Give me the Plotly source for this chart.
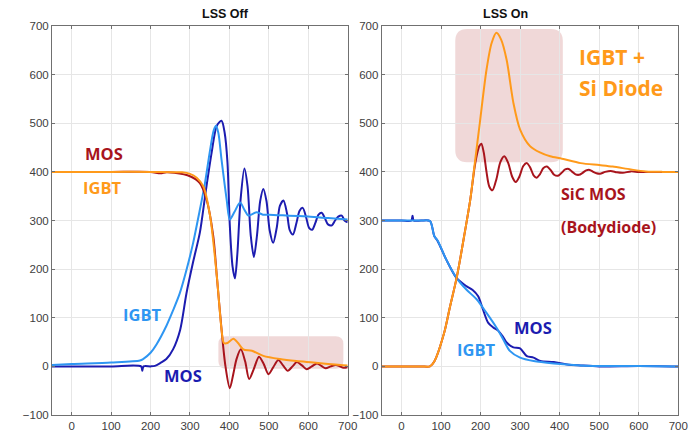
import plotly.graph_objects as go

# ---------------- data (time in ns, value) ----------------
# LSS Off panel
off_mos_v_t = [-50, 0, 100, 200, 225, 240, 260, 300, 325, 342, 359, 368, 380, 390, 401, 410, 418, 429, 440, 450, 462, 475, 487, 499, 511, 524, 536, 548, 560, 571, 584, 596, 609, 622, 633, 644, 657, 670, 680, 689, 700]
off_mos_v = [400, 400, 400, 400, 397, 399, 398, 391, 377, 343, 268, 186, 76, 0, -45, -15, 15, 35, 10, -26, -5, 20, 5, -16, -2, 13, 2, -9, 0, 9, 2, -6, 0, 6, 1, -4, 0, 3, 0, -3, -2]

off_igbt_v_t = [-50, 0, 100, 200, 280, 300, 317, 334, 351, 368, 380, 386, 395, 410, 422, 435, 457, 486, 528, 570, 613, 650, 689, 700]
off_igbt_v = [400, 400, 400, 400, 399, 396, 388, 370, 309, 186, 76, 48, 48, 57, 48, 35, 32, 21.5, 15, 11, 8, 5, 2.5, 2]

off_igbt_i_t = [-50, 0, 100, 173, 181, 200, 215, 240, 257, 274, 290, 308, 325, 338, 350, 360, 366, 372, 380, 393, 401, 413, 427, 438, 448, 458, 469, 485, 500, 550, 600, 650, 700]
off_igbt_i = [3, 5, 8, 12, 15, 28, 45, 83, 115, 150, 195, 254, 322, 377, 440, 485, 495, 480, 425, 343, 302, 318, 337, 322, 310, 313, 317, 312, 312, 310, 308, 305, 302]

off_mos_i_t = [-50, 0, 100, 176, 179, 182, 200, 211, 225, 240, 257, 275, 291, 308, 325, 340, 355, 368, 380, 388, 395, 401, 408, 414, 420, 428, 438, 446, 454, 462, 470, 478, 486, 494, 502, 511, 520, 528, 537, 546, 553, 561, 570, 578, 586, 595, 602, 610, 618, 626, 634, 642, 650, 660, 668, 676, 685, 692, 700]
off_mos_i = [0, 0, 0, 0, -9, 0, 0, 1, 7, 15, 35, 75, 150, 215, 275, 360, 440, 495, 505, 480, 420, 290, 205, 181, 230, 340, 407, 370, 270, 225, 270, 340, 365, 340, 280, 254, 285, 330, 341, 315, 280, 271, 295, 320, 326, 305, 285, 281, 295, 312, 316, 305, 292, 290, 300, 308, 310, 300, 296]

# LSS On panel
on_igbt_v_t = [-50, 0, 50, 72, 83, 108, 122, 140, 160, 174, 185, 198, 215, 228, 240, 252, 266, 283, 300, 325, 350, 376, 406, 453, 500, 534, 580, 618, 660, 700]
on_igbt_v = [0, 0, 0, 0, 10, 69, 120, 184, 275, 343, 415, 500, 610, 665, 686, 672, 630, 542, 487, 453, 440, 432, 427, 418, 414, 411, 405, 401, 400, 400]

on_mos_v_t = [-50, 0, 50, 72, 83, 108, 122, 140, 160, 174, 185, 192, 197, 202, 208, 215, 222, 230, 240, 250, 260, 270, 280, 289, 298, 308, 317, 326, 334, 342, 350, 359, 368, 377, 386, 396, 405, 414, 423, 432, 440, 449, 458, 467, 476, 485, 493, 502, 515, 529, 545, 560, 580, 600, 640, 700]
on_mos_v = [0, 0, 0, 0, 10, 69, 120, 184, 275, 343, 410, 440, 453, 458, 440, 400, 370, 362, 385, 420, 432, 418, 390, 379, 390, 412, 418, 408, 393, 388, 395, 408, 411, 404, 394, 392, 398, 405, 406, 400, 395, 394, 398, 403, 404, 400, 397, 396, 400, 402, 399, 398, 401, 400, 400, 400]

on_igbt_i_t = [-50, 0, 50, 72, 83, 92, 113, 139, 164, 190, 215, 240, 257, 274, 300, 334, 385, 453, 500, 600, 700]
on_igbt_i = [300, 300, 300, 299, 268, 258, 220, 182, 158, 138, 110, 80, 56, 32, 18, 11, 6, 2, 1, 1, 0]

on_mos_i_t = [-50, 0, 25, 28, 31, 50, 72, 83, 92, 113, 139, 164, 180, 194, 206, 219, 232, 245, 256, 266, 283, 300, 317, 334, 351, 385, 419, 453, 500, 600, 700]
on_mos_i = [300, 300, 300, 310, 300, 300, 299, 268, 257, 220, 182, 165, 157, 144, 117, 90, 80, 73, 62, 49, 39, 37, 21, 18, 11, 9, 4, 2, 0, 1, 0]

x_ticks = [0, 100, 200, 300, 400, 500, 600, 700]
y_ticks = [-100, 0, 100, 200, 300, 400, 500, 600, 700]

# ---------------- styles ----------------
DARK_RED = "#a8141c"
ORANGE = "#ff9a1a"
LIGHT_BLUE = "#2e96f2"
DARK_BLUE = "#1c1cb0"

fig = go.Figure()

def add(t, v, color, xa, ya):
    fig.add_trace(go.Scatter(x=t, y=v, mode="lines", xaxis=xa, yaxis=ya,
                             line=dict(color=color, width=2, shape="spline", smoothing=0.8),
                             showlegend=False, hoverinfo="skip"))

add(off_mos_i_t, off_mos_i, DARK_BLUE, "x", "y")
add(off_igbt_i_t, off_igbt_i, LIGHT_BLUE, "x", "y")
add(off_mos_v_t, off_mos_v, DARK_RED, "x", "y")
add(off_igbt_v_t, off_igbt_v, ORANGE, "x", "y")

add(on_mos_i_t, on_mos_i, DARK_BLUE, "x2", "y2")
add(on_igbt_i_t, on_igbt_i, LIGHT_BLUE, "x2", "y2")
add(on_mos_v_t, on_mos_v, DARK_RED, "x2", "y2")
add(on_igbt_v_t, on_igbt_v, ORANGE, "x2", "y2")

def rounded(x0, x1, y0, y1, rx, ry):
    return (f"M {x0+rx},{y0} L {x1-rx},{y0} Q {x1},{y0} {x1},{y0+ry} "
            f"L {x1},{y1-ry} Q {x1},{y1} {x1-rx},{y1} L {x0+rx},{y1} "
            f"Q {x0},{y1} {x0},{y1-ry} L {x0},{y0+ry} Q {x0},{y0} {x0+rx},{y0} Z")

fig.add_shape(type="path", path=rounded(372, 689, -5, 62, 20, 16), xref="x", yref="y",
              fillcolor="rgba(180,60,60,0.2)", line=dict(width=0), layer="below")
fig.add_shape(type="path", path=rounded(136, 408, 420, 694, 30, 25), xref="x2", yref="y2",
              fillcolor="rgba(180,60,60,0.2)", line=dict(width=0), layer="below")

axis_common = dict(showgrid=True, gridcolor="#e6e6e6", gridwidth=1, automargin=False,
                   showline=True, linecolor="#707070", linewidth=1, mirror="allticks",
                   ticks="inside", ticklen=3, tickcolor="#707070", zeroline=False,
                   tickfont=dict(family="Liberation Sans, Arial", size=11.5, color="#404040"))

fig.update_layout(
    width=690, height=433,
    margin=dict(l=0, r=0, t=0, b=0),
    paper_bgcolor="white", plot_bgcolor="white",
    xaxis=dict(domain=[52/690, 347.7/690], range=[-50, 700], tickvals=x_ticks, anchor="y", **axis_common),
    yaxis=dict(domain=[1-415/433, 1-26/433], range=[-100, 700], tickvals=y_ticks, anchor="x", **axis_common),
    xaxis2=dict(domain=[381.7/690, 678.3/690], range=[-50, 700], tickvals=x_ticks, anchor="y2", **axis_common),
    yaxis2=dict(domain=[1-415/433, 1-26/433], range=[-100, 700], tickvals=y_ticks, anchor="x2", **axis_common),
)

BF = "Open Sans"
ann = [
    dict(text="<b>LSS Off</b>", x=200/690, y=1-14/433, xref="paper", yref="paper",
         font=dict(family="Liberation Sans, Arial", size=12.5, color="#111")),
    dict(text="<b>LSS On</b>", x=530/690, y=1-14/433, xref="paper", yref="paper",
         font=dict(family="Liberation Sans, Arial", size=12.5, color="#111")),
    dict(text="<b>MOS</b>", x=82.6, y=438, xref="x", yref="y", font=dict(family=BF, size=16.5, color=DARK_RED)),
    dict(text="<b>IGBT</b>", x=78, y=368, xref="x", yref="y", font=dict(family=BF, size=16.5, color=ORANGE)),
    dict(text="<b>IGBT</b>", x=179, y=106, xref="x", yref="y", font=dict(family=BF, size=16.5, color=LIGHT_BLUE)),
    dict(text="<b>MOS</b>", x=281, y=-18, xref="x", yref="y", font=dict(family=BF, size=16.5, color=DARK_BLUE)),
    dict(text="<b>IGBT +</b>", x=442.7, y=636, xref="x2", yref="y2", xanchor="left", font=dict(family=BF, size=21, color=ORANGE)),
    dict(text="<b>Si Diode</b>", x=442.7, y=572, xref="x2", yref="y2", xanchor="left", font=dict(family=BF, size=21, color=ORANGE)),
    dict(text="<b>SiC MOS</b>", x=397.6, y=355, xref="x2", yref="y2", xanchor="left", font=dict(family=BF, size=16, color=DARK_RED)),
    dict(text="<b>(Bodydiode)</b>", x=397.6, y=287, xref="x2", yref="y2", xanchor="left", font=dict(family=BF, size=16, color=DARK_RED)),
    dict(text="<b>MOS</b>", x=333.8, y=79, xref="x2", yref="y2", font=dict(family=BF, size=16.5, color=DARK_BLUE)),
    dict(text="<b>IGBT</b>", x=187.8, y=35, xref="x2", yref="y2", font=dict(family=BF, size=16.5, color=LIGHT_BLUE)),
]
for a in ann:
    a.setdefault("showarrow", False)
    a.setdefault("yanchor", "middle")
fig.update_layout(annotations=ann)

fig.write_html("out.html", config={"displayModeBar": False},
               post_script="document.body.style.margin='0';document.body.style.overflow='hidden';")
